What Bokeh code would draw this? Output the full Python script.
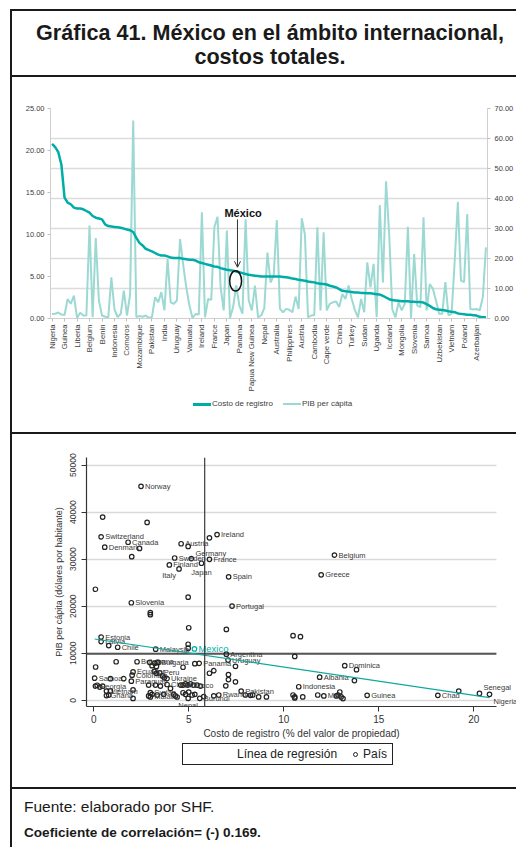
import math
from bokeh.plotting import figure
from bokeh.models import (Range1d, LinearAxis, FixedTicker, NumeralTickFormatter, Grid,
                          Span, Div, Arrow, OpenHead, Label, ColumnDataSource)
from bokeh.layouts import column, row
from bokeh.embed import file_html
from bokeh.resources import INLINE
from bokeh.core.properties import value

FONT = "Liberation Sans"
TEAL = "#00ADA6"
TEAL_CLARO = "#9DD9D3"

# ---------------- Gráfica superior: datos ----------------
paises_etiquetados = ["Nigeria", "Guinea", "Liberia", "Belgium", "Benin", "Indonesia", "Comoros",
                      "Mozambique", "Pakistan", "India", "Uruguay", "Vanuatu", "Ireland", "France",
                      "Japan", "Panama", "Papua New Guinea", "Nepal", "Australia", "Philippines",
                      "Austria", "Cambodia", "Cape verde", "China", "Turkey", "Sudan", "Uganda",
                      "Iceland", "Mongolia", "Slovenia", "Samoa", "Uzbekistan", "Vietnam", "Poland",
                      "Azerbaijan"]

costo_registro = [20.8, 20.4, 19.8, 18.3, 14.4, 13.8, 13.6, 13.2, 13.1, 13.1,
                  13.0, 12.8, 12.6, 12.2, 12.0, 11.9, 11.8, 11.2, 11.0, 10.95,
                  10.9, 10.85, 10.8, 10.7, 10.6, 10.5, 10.3, 9.6, 9.0, 8.7,
                  8.3, 8.15, 8.0, 7.8, 7.6, 7.5, 7.5, 7.4, 7.25, 7.2,
                  7.2, 7.2, 7.1, 7.05, 7.0, 7.0, 6.9, 6.7, 6.6, 6.5,
                  6.4, 6.3, 6.2, 6.15, 6.0, 5.9, 5.8, 5.75, 5.7, 5.6,
                  5.5, 5.4, 5.3, 5.2, 5.15, 5.1, 5.05, 5.0, 5.0, 5.0,
                  5.0, 5.0, 5.0, 5.0, 4.95, 4.9, 4.85, 4.75, 4.7, 4.6,
                  4.55, 4.5, 4.4, 4.35, 4.3, 4.2, 4.15, 4.1, 4.05, 3.9,
                  3.8, 3.7, 3.5, 3.3, 3.25, 3.2, 3.15, 3.1, 3.1, 3.05,
                  3.05, 3.0, 3.0, 2.95, 2.9, 2.85, 2.7, 2.5, 2.3, 2.2,
                  2.15, 2.1, 2.05, 2.05, 2.05, 2.0, 2.0, 1.95, 1.95, 1.9,
                  1.7, 1.5, 1.25, 1.1, 1.05, 1.0, 0.95, 0.87, 0.8, 0.75,
                  0.6, 0.55, 0.5, 0.45, 0.45, 0.4, 0.35, 0.2, 0.15, 0.15]

pib_per_capita = [1.5, 1.6, 2.0, 1.3, 1.2, 6.5, 4.9, 7.6, 0.2, 1.9,
                  1.0, 1.0, 31.0, 0.4, 26.8, 6.0, 1.0, 0.6, 0.4, 13.7,
                  3.0, 0.5, 1.5, 9.3, 1.0, 8.0, 66.0, 0.5, 0.8, 0.6,
                  1.0, 0.2, 0.5, 7.1, 5.4, 8.8, 2.7, 19.8, 5.4, 4.9,
                  6.0, 26.5, 18.0, 10.4, 4.3, 0.2, 1.5, 1.3, 35.4, 0.4,
                  6.5, 6.2, 30.4, 33.9, 10.4, 2.7, 29.3, 0.2, 3.8, 11.0,
                  4.3, 1.6, 33.1, 6.0, 2.7, 11.0, 0.4, 1.0, 3.5, 22.0,
                  12.0, 14.3, 32.8, 3.2, 2.1, 3.2, 2.9, 2.1, 7.3, 3.2,
                  33.4, 28.0, 0.4, 1.0, 1.2, 30.4, 2.7, 28.7, 2.7, 4.9,
                  5.4, 5.7, 3.8, 8.2, 6.5, 11.0, 6.5, 2.9, 0.4, 6.5,
                  2.1, 18.7, 10.4, 18.2, 0.4, 37.8, 12.0, 45.7, 28.0, 3.0,
                  0.4, 5.4, 2.7, 4.9, 30.6, 0.2, 21.5, 4.3, 3.8, 33.7,
                  2.7, 11.5, 9.9, 6.0, 1.6, 1.6, 12.1, 1.0, 1.6, 19.3,
                  38.9, 12.6, 12.1, 34.8, 3.2, 3.0, 3.2, 2.7, 7.1, 23.7]

idx_mexico = 59   # posición de México en la serie ordenada

# ---------------- Gráfica inferior: datos ----------------
sc_pais = ["Norway", "Switzerland", "Canada", "Denmark", "Ireland", "Austria", "Sweden", "Germany",
           "France", "Finland", "Japan", "Italy", "Spain", "Belgium", "Greece", "Slovenia",
           "Portugal", "Estonia", "Latvia", "Chile", "Malaysia", "Argentina", "Uruguay", "Panama",
           "Botswana", "Bulgaria", "Ecuador", "Colombia", "Peru", "Ukraine", "Samoa", "Georgia",
           "Paraguay", "China", "Morocco", "Vietnam", "Ghana", "Sudan", "Malawi", "Nepal",
           "Burundi", "Rwanda", "Pakistan", "Indonesia", "Albania", "Dominica", "Mali", "Guinea",
           "Chad", "Senegal", "Nigeria"]
sc_costo = [2.49, 0.39, 1.81, 0.58, 6.49, 4.6, 4.26, 5.14,
            6.09, 3.98, 5.67, 4.49, 7.1, 12.67, 11.97, 1.98,
            7.28, 0.39, 0.39, 1.26, 3.26, 6.98, 7.07, 5.55,
            2.28, 3.34, 2.07, 2.02, 3.47, 3.86, 0.05, 0.09,
            1.98, 3.86, 4.58, 0.67, 0.67, 2.98, 2.98, 4.97,
            5.58, 6.58, 7.76, 10.79, 11.89, 13.21, 12.11, 14.39,
            18.11, 20.3, 20.83]
sc_pib = [45500, 34750, 33600, 32550, 35230, 33280, 30250, 30130,
          29980, 28780, 29140, 27940, 26260, 30880, 26680, 20740,
          20040, 13450, 12480, 11280, 10860, 9810, 8550, 7860,
          8190, 8070, 6030, 5340, 5820, 4620, 4700, 3020,
          4070, 3360, 3230, 1970, 1000, 1620, 710, 420,
          420, 1130, 1970, 2880, 4910, 7350, 920, 1050,
          1050, 1470, 1260]

otros_costo = [0.47, 2.81, 2.41, 2.0, 4.97, 6.09, 0.09, 4.97, 2.98, 2.98, 5.0, 6.98,
               0.79, 4.97, 4.97, 10.49, 10.88, 10.58, 13.83, 13.72, 19.21, 0.1, 1.18, 2.95,
               3.21, 3.42, 3.07, 3.3, 3.19, 3.3, 3.62, 3.72, 4.7, 5.32, 6.09, 6.32,
               7.09, 7.46, 7.09, 7.46, 6.95, 0.18, 0.32, 0.47, 0.88, 1.58, 0.88, 0.79,
               2.07, 2.07, 2.89, 3.25, 3.51, 4.04, 4.7, 4.83, 4.95, 5.09, 5.26, 5.44,
               5.62, 2.89, 3.07, 3.34, 3.68, 4.21, 4.3, 4.39, 4.7, 4.83, 5.0, 5.18,
               5.32, 5.79, 6.32, 7.98, 8.37, 8.25, 8.68, 9.09, 10.49, 10.58, 10.58, 11.0,
               11.79, 12.77, 12.86, 12.95, 13.02, 13.12]
otros_pib = [38950, 37820, 32290, 30540, 32710, 34540, 23610, 21930, 18630, 18210, 15420, 15060,
             11640, 11910, 11070, 13740, 13530, 9330, 6510, 4200, 1970, 7080, 8190, 8050,
             7860, 8050, 7350, 7210, 6160, 5740, 5190, 4770, 7020, 7780, 5750, 6300,
             5460, 7220, 4410, 3930, 3080, 3200, 2800, 3000, 4600, 4600, 2000, 1100,
             400, 2200, 3230, 3230, 3020, 2520, 3230, 3510, 3230, 3510, 3230, 3230,
             3020, 920, 1260, 1130, 1260, 1260, 920, 700, 1600, 1260, 1750, 1130,
             1260, 780, 950, 1130, 1130, 1050, 710, 710, 1130, 710, 500, 710,
             1130, 920, 1130, 1760, 710, 360]

mexico_costo = 5.3
mexico_pib = 10920

reg_intercepto = 13060      # línea de regresión
reg_pendiente = -599
media_costo = 5.84
media_pib = 9900

# ajustes de posición de etiquetas (estilo)
ajuste_etiqueta = {"Germany": (4, -5, "left"), "Japan": (0, 9, "center"), "Italy": (-10, 7, "center"),
                   "Nepal": (0, 7, "center"), "Senegal": (4, -6, "left"), "Nigeria": (4, 7, "left")}

# ---------------- helpers ----------------
def barra(w, h, color):
    return Div(text="", width=w, height=h, margin=0,
               styles={"background-color": color})

def hueco(w, h):
    return Div(text="", width=w, height=h, margin=0)

W = 504
FF = "font-family:'Liberation Sans',Arial,sans-serif;"
NEGRO = "#1a1a1a"

# ---------------- Título ----------------
titulo = Div(text=('<div style="width:504px;height:64px;box-sizing:border-box;padding:10px 0 0 12px;'
                   'text-align:center;' + FF + 'font-weight:bold;'
                   'font-size:21.6px;line-height:24px;color:#1a1a1a;white-space:nowrap;">'
                   'Gráfica 41. México en el ámbito internacional,<br>costos totales.</div>'),
             width=W, height=64, margin=0)

# ---------------- Figura superior ----------------
n = len(costo_registro)
idx = list(range(n))
ticks_x = list(range(0, n, 4))
top = figure(width=W, height=320, x_range=Range1d(-0.5, n - 0.5), y_range=Range1d(0, 25),
             output_backend="svg", toolbar_location=None, margin=0, frame_align=False,
             min_border_left=38, min_border_right=27, min_border_top=31, min_border_bottom=79)
top.outline_line_color = None
top.xgrid.visible = False
top.ygrid.visible = False
top.extra_y_ranges = {"pib": Range1d(0, 70)}

lax = top.yaxis[0]
lax.ticker = FixedTicker(ticks=[0, 5, 10, 15, 20, 25])
lax.formatter = NumeralTickFormatter(format="0.00")

rax = LinearAxis(y_range_name="pib", ticker=FixedTicker(ticks=list(range(0, 80, 10))),
                 formatter=NumeralTickFormatter(format="0.00"))
top.add_layout(rax, "right")

for ax in (lax, rax):
    ax.axis_line_color = "#d0d0d0"
    ax.major_tick_line_color = "#c0c0c0"
    ax.major_tick_out = 3
    ax.major_tick_in = 0
    ax.minor_tick_line_color = None
    ax.major_label_text_font = FONT
    ax.major_label_text_font_size = "7.5px"
    ax.major_label_text_color = "#404040"
    ax.major_label_standoff = 3
rax.major_label_standoff = 4

xax = top.xaxis[0]
xax.ticker = FixedTicker(ticks=ticks_x)
xax.major_label_overrides = {t: nm for t, nm in zip(ticks_x, paises_etiquetados)}
xax.major_label_orientation = math.pi / 2
xax.axis_line_color = "#d0d0d0"
xax.major_tick_line_color = "#c0c0c0"
xax.major_tick_out = 3
xax.major_tick_in = 0
xax.minor_tick_line_color = None
xax.major_label_text_font = FONT
xax.major_label_text_font_size = "7.7px"
xax.major_label_text_color = "#404040"
xax.major_label_standoff = 3

grid = Grid(dimension=1, ticker=FixedTicker(ticks=list(range(0, 80, 10))), y_range_name="pib",
            grid_line_color="#dcdcdc", grid_line_width=1.5)
top.add_layout(grid)

top.line(idx, pib_per_capita, y_range_name="pib", line_color=TEAL_CLARO, line_width=2)
top.line(idx, costo_registro, line_color=TEAL, line_width=2.5)

# anotación México
esc = 25 / 70
top.ellipse(x=[idx_mexico - 0.2], y=[pib_per_capita[idx_mexico] * esc + 0.55], width=3.8, height=2.4,
            fill_color=None, line_color="#111111", line_width=1.5)
top.add_layout(Arrow(end=OpenHead(size=6, line_color="#333333", line_width=1),
                     x_start=idx_mexico + 0.4, y_start=costo_registro[idx_mexico] + 6.2,
                     x_end=idx_mexico + 0.4, y_end=costo_registro[idx_mexico] + 0.5,
                     line_color="#333333", line_width=1))
top.add_layout(Label(x=idx_mexico + 2.2, y=costo_registro[idx_mexico] + 7.0, text="México",
                     text_font=FONT, text_font_style="bold", text_font_size="11px",
                     text_align="center", text_baseline="middle", text_color="#111111"))

# leyenda superior (HTML)
leg_top = Div(text=('<div style="position:relative;width:504px;height:35px;' + FF +
                    'font-size:8px;color:#404040;">'
                    '<div style="position:absolute;left:181px;top:6px;width:18px;height:2.5px;background:' + TEAL + ';"></div>'
                    '<div style="position:absolute;left:200px;top:2px;line-height:10px;white-space:nowrap;">Costo de registro</div>'
                    '<div style="position:absolute;left:271px;top:6px;width:18px;height:2px;background:' + TEAL_CLARO + ';"></div>'
                    '<div style="position:absolute;left:290px;top:2px;line-height:10px;white-space:nowrap;">PIB per cápita</div>'
                    '</div>'),
              width=W, height=35, margin=0)

# ---------------- Figura inferior (dispersión) ----------------
X0, X1 = -0.38, 21.19          # extensión de la caja del gráfico (ejes y rejilla)
sc = figure(width=W, height=307, x_range=Range1d(X0, 22.25), y_range=Range1d(-1320, 51620),
            output_backend="svg", toolbar_location=None, margin=0, frame_align=False,
            min_border_left=74, min_border_right=0, min_border_top=23, min_border_bottom=32)
sc.outline_line_color = None
sc.xgrid.visible = False
sc.ygrid.ticker = FixedTicker(ticks=[0, 10000, 20000, 30000, 40000, 50000])
sc.ygrid.grid_line_color = "#d9d9d9"
sc.ygrid.grid_line_width = 1.5
sc.ygrid.cross_bounds = (X0, X1)

sx = sc.xaxis[0]
sx.ticker = FixedTicker(ticks=[0, 5, 10, 15, 20])
sx.bounds = (X0, X1)
sx.axis_label = "Costo de registro (% del valor de propiedad)"
sy = sc.yaxis[0]
sy.ticker = FixedTicker(ticks=[0, 10000, 20000, 30000, 40000, 50000])
sy.formatter = NumeralTickFormatter(format="0")
sy.axis_label = "PIB per cápita (dólares por habitante)"
sy.major_label_orientation = "vertical"
for ax in (sx, sy):
    ax.axis_line_color = "#333333"
    ax.axis_line_width = 1.2
    ax.major_tick_line_color = "#333333"
    ax.major_tick_out = 5
    ax.major_tick_in = 0
    ax.minor_tick_line_color = None
    ax.major_label_text_font = FONT
    ax.major_label_text_color = "#333333"
    ax.axis_label_text_font = FONT
    ax.axis_label_text_font_style = "normal"
    ax.axis_label_text_color = "#333333"
sx.major_label_text_font_size = "10px"
sx.major_label_standoff = 3
sx.axis_label_text_font_size = "10px"
sx.axis_label_standoff = 2
sy.major_label_text_font_size = "8.5px"
sy.major_label_standoff = 5
sy.axis_label_text_font_size = "9px"
sy.axis_label_standoff = 4

# líneas de referencia (medias)
sc.segment(x0=[X0], y0=[media_pib], x1=[X1], y1=[media_pib], line_color="#555555", line_width=2)
sc.add_layout(Span(location=media_costo, dimension="height", line_color="#3a3a3a", line_width=1.2))

todos_costo = sc_costo + otros_costo
todos_pib = sc_pib + otros_pib
sc.scatter(todos_costo, todos_pib, marker="circle", size=4.5, fill_color=None,
           line_color="#222222", line_width=1.2)

xo, yo, al = [], [], []
for nm in sc_pais:
    a = ajuste_etiqueta.get(nm, (4, 0, "left"))
    xo.append(a[0]); yo.append(a[1]); al.append(a[2])
src_lab = ColumnDataSource(dict(x=sc_costo, y=sc_pib, t=sc_pais, xo=xo, yo=yo, al=al))
sc.text(x="x", y="y", text="t", x_offset="xo", y_offset="yo", text_align="al", source=src_lab,
        text_font=value(FONT), text_font_size="7.5px", text_color="#3a3a3a", text_baseline="middle")

sc.scatter([mexico_costo], [mexico_pib], marker="circle", size=4.5, fill_color=None,
           line_color=TEAL, line_width=1.2)
sc.text(x=[mexico_costo], y=[mexico_pib], text=["Mexico"], x_offset=4, text_font=value(FONT),
        text_font_size="9.5px", text_color=TEAL, text_baseline="middle")

xr = [min(todos_costo), max(todos_costo)]
sc.line(xr, [reg_intercepto + reg_pendiente * v for v in xr], line_color="#10A89E", line_width=1.2)

# leyenda inferior (HTML)
leg_sc = Div(text=('<div style="position:relative;width:504px;height:46px;' + FF +
                   'font-size:12px;color:#222;">'
                   '<div style="position:absolute;left:170px;top:2px;width:211px;height:22px;'
                   'box-sizing:border-box;border:1px solid #222;">'
                   '<div style="position:absolute;left:54px;top:0;line-height:20px;white-space:nowrap;">Línea de regresión</div>'
                   '<div style="position:absolute;left:170px;top:7.5px;width:5px;height:5px;box-sizing:border-box;'
                   'border:1.2px solid #222;border-radius:50%;"></div>'
                   '<div style="position:absolute;left:180px;top:0;line-height:20px;white-space:nowrap;">País</div>'
                   '</div></div>'),
             width=W, height=46, margin=0)

# ---------------- Pie ----------------
pie = Div(text=('<div style="' + FF + 'color:#1a1a1a;padding:8px 0 0 12px;">'
                '<div style="font-size:15.5px;line-height:20px;white-space:nowrap;">Fuente: elaborado por SHF.</div>'
                '<div style="font-size:13.6px;line-height:16px;font-weight:bold;margin-top:8px;white-space:nowrap;">'
                'Coeficiente de correlación= (-) 0.169.</div></div>'),
          width=W, height=58, margin=0)

contenido = column(barra(W, 2, NEGRO), titulo, barra(W, 2, NEGRO), top, leg_top,
                   barra(W, 2, NEGRO), sc, leg_sc, barra(W, 2, NEGRO), pie,
                   spacing=0, margin=0)
H_CONT = 2 + 64 + 2 + 320 + 35 + 2 + 307 + 46 + 2 + 58
layout = column(hueco(516, 9),
                row(hueco(10, H_CONT), barra(2, H_CONT, NEGRO), contenido, spacing=0, margin=0),
                spacing=0, margin=0)

open("out.html", "w").write(file_html(layout, INLINE))
